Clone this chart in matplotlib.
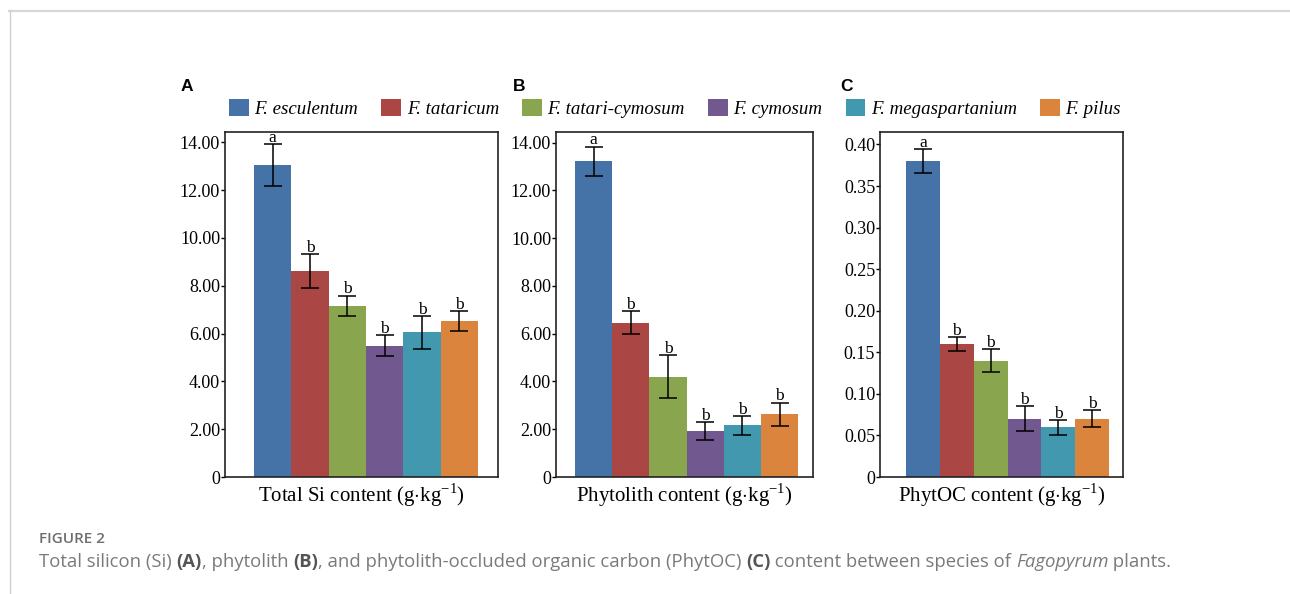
import numpy as np
import matplotlib
matplotlib.use("Agg")
import matplotlib.pyplot as plt
from matplotlib.patches import Patch
from matplotlib.lines import Line2D

plt.rcParams['font.family'] = ['Liberation Serif', 'DejaVu Serif']
plt.rcParams['mathtext.fontset'] = 'custom'
plt.rcParams['mathtext.rm'] = 'Liberation Serif'

# species and group letters
species = ['F. esculentum', 'F. tataricum', 'F. tatari-cymosum',
           'F. cymosum', 'F. megaspartanium', 'F. pilus']
colors = ['#4572A7', '#AA4643', '#89A54E', '#71588F', '#4198AF', '#DB843D']
letters = ['a', 'b', 'b', 'b', 'b', 'b']

# total Si (g/kg)
si_mean = [13.05, 8.62, 7.16, 5.49, 6.05, 6.52]
si_err = [0.86, 0.72, 0.43, 0.44, 0.70, 0.43]

# phytolith (g/kg)
phy_mean = [13.22, 6.47, 4.20, 1.92, 2.16, 2.62]
phy_err = [0.62, 0.48, 0.90, 0.38, 0.39, 0.50]

# PhytOC (g/kg)
poc_mean = [0.38, 0.16, 0.14, 0.07, 0.06, 0.07]
poc_err = [0.014, 0.008, 0.014, 0.015, 0.009, 0.010]

si_ticks = [0, 2, 4, 6, 8, 10, 12, 14]
poc_ticks = [0, 0.05, 0.10, 0.15, 0.20, 0.25, 0.30, 0.35, 0.40]

W, H = 1290, 594
fig = plt.figure(figsize=(W / 100, H / 100), dpi=100)


def fx(px):
    return px / W


def fy(py):
    return 1 - py / H


def panel(rect, means, errs, ticks, fmt, ylim, xlim, xlabel, tag, tag_x):
    ax = fig.add_axes(rect)
    x = np.arange(len(means))
    ax.bar(x, means, width=1.0, color=colors, edgecolor='none', zorder=2)
    ax.errorbar(x, means, yerr=errs, fmt='none', ecolor='black',
                elinewidth=1.1, capsize=6.5, capthick=1.1, zorder=3)
    for xi, m, e, lab in zip(x, means, errs, letters):
        ax.annotate(lab, (xi, m + e), xytext=(0, 1.5),
                    textcoords='offset points', ha='center', va='baseline',
                    fontsize=12.5, zorder=4)
    ax.set_xlim(*xlim)
    ax.set_ylim(*ylim)
    ax.set_xticks([])
    ax.set_yticks(ticks)
    ax.set_yticklabels([('0' if t == 0 else fmt.format(t)) for t in ticks])
    ax.tick_params(axis='y', direction='out', length=3, width=1, pad=0.5,
                   labelsize=13)
    for s in ax.spines.values():
        s.set_linewidth(1.2)
        s.set_color('#222222')
    ax.set_xlabel(xlabel, fontsize=15, labelpad=3)
    fig.text(fx(tag_x), fy(87), tag, fontsize=12.5, fontweight='bold',
             family='Liberation Sans', ha='left', va='center')
    return ax


unit = r' (g$\cdot$kg$^{\mathrm{-1}}$)'
bottom = fy(477)
height = (477 - 132) / H

panel([fx(225), bottom, (498 - 225) / W, height], si_mean, si_err,
      si_ticks, '{:.2f}', (0, 14.43), (-1.28, 6.04),
      'Total Si content' + unit, 'A', 181)
panel([fx(556), bottom, (813 - 556) / W, height], phy_mean, phy_err,
      si_ticks, '{:.2f}', (0, 14.45), (-1.01, 5.90),
      'Phytolith content' + unit, 'B', 513)
panel([fx(880), bottom, (1123 - 880) / W, height], poc_mean, poc_err,
      poc_ticks, '{:.2f}', (0, 0.415), (-1.27, 5.91),
      'PhytOC content' + unit, 'C', 840)

# one shared legend row across the three panels
handles = [Patch(facecolor=c, edgecolor='none') for c in colors]
fig.legend(handles, species, loc='center left',
           bbox_to_anchor=(fx(229), fy(108.5)), ncol=6, frameon=False,
           borderpad=0, borderaxespad=0, handlelength=1.05,
           handleheight=1.0, handletextpad=0.3, columnspacing=1.22,
           prop={'family': 'Liberation Serif', 'style': 'italic',
                 'size': 13.6})

# page frame
fig.add_artist(Line2D([fx(9), 1], [fy(10.5), fy(10.5)], color='#d6d6d6',
                      lw=1.6))
fig.add_artist(Line2D([fx(9.5), fx(9.5)], [fy(10), 0], color='#cfcfcf',
                      lw=1.0))

# caption
fig.text(fx(39), fy(539), 'FIGURE 2', family='Open Sans',
         fontweight='semibold', fontsize=11, color='#6e6e6e',
         ha='left', va='center')

runs = [
    ('Total silicon (Si) ', {}),
    ('(A)', {'fontweight': 'bold', 'color': '#555555'}),
    (', phytolith ', {}),
    ('(B)', {'fontweight': 'bold', 'color': '#555555'}),
    (', and phytolith-occluded organic carbon (PhytOC) ', {}),
    ('(C)', {'fontweight': 'bold', 'color': '#555555'}),
    (' content between species of ', {}),
    ('Fagopyrum', {'style': 'italic'}),
    (' plants.', {}),
]
renderer = fig.canvas.get_renderer()
xpos = fx(39)
for txt, kw in runs:
    style = dict(family='Open Sans', fontsize=13.3, color='#7a7a7a',
                 ha='left', va='baseline')
    style.update(kw)
    t = fig.text(xpos, fy(567), txt, **style)
    bb = t.get_window_extent(renderer)
    xpos = bb.x1 / W

fig.savefig('out.png', dpi=100)
